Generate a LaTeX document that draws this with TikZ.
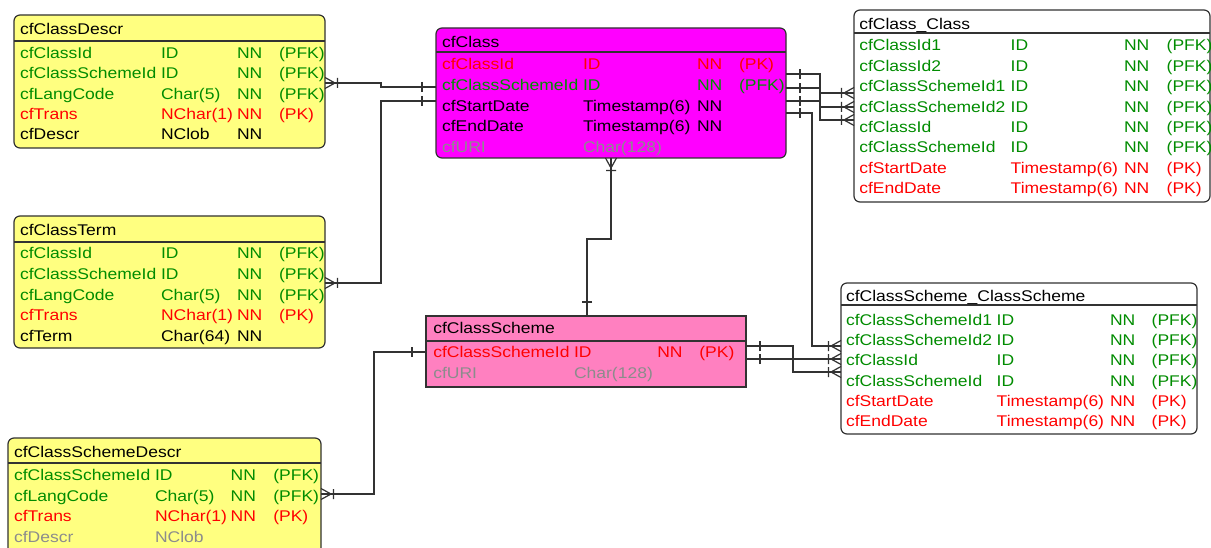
\documentclass[tikz,border=0pt]{standalone}
\usepackage{fontspec}
\setmainfont{Liberation Sans}[FakeStretch=1.13]
\definecolor{tyellow}{RGB}{255,255,128}
\definecolor{tmagenta}{RGB}{255,0,255}
\definecolor{tpink}{RGB}{255,128,192}
\definecolor{tgreen}{RGB}{0,140,0}
\definecolor{tred}{RGB}{255,0,0}
\definecolor{tgray}{RGB}{140,140,140}
\definecolor{tline}{RGB}{50,50,50}

\pgfdeclarearrow{
  name=Crow,
  setup code={
    \pgfarrowssettipend{0pt}
    \pgfarrowssetlineend{0pt}
    \pgfarrowssetbackend{-13pt}
    \pgfarrowssetvisualbackend{-13pt}
    \pgfarrowshullpoint{0pt}{5pt}
    \pgfarrowshullpoint{0pt}{-5pt}
    \pgfarrowshullpoint{-13pt}{5pt}
    \pgfarrowshullpoint{-13pt}{-5pt}
  },
  drawing code={
    \pgfsetdash{}{0pt}
    \pgfpathmoveto{\pgfpoint{0pt}{5.5pt}}
    \pgfpathlineto{\pgfpoint{-10pt}{0pt}}
    \pgfpathlineto{\pgfpoint{0pt}{-5.5pt}}
    \pgfpathmoveto{\pgfpoint{-12.5pt}{5pt}}
    \pgfpathlineto{\pgfpoint{-12.5pt}{-5pt}}
    \pgfusepathqstroke
  }
}
\pgfdeclarearrow{
  name=OneTick,
  setup code={
    \pgfarrowssettipend{0pt}
    \pgfarrowssetlineend{0pt}
    \pgfarrowssetbackend{-14pt}
    \pgfarrowssetvisualbackend{-14pt}
    \pgfarrowshullpoint{0pt}{0pt}
    \pgfarrowshullpoint{-14pt}{5pt}
    \pgfarrowshullpoint{-14pt}{-5pt}
  },
  drawing code={
    \pgfsetdash{}{0pt}
    \pgfpathmoveto{\pgfpoint{-14pt}{5pt}}
    \pgfpathlineto{\pgfpoint{-14pt}{-5pt}}
    \pgfusepathqstroke
  }
}

\newcommand{\erow}[7]{%
  \node[cell,text=#3] (#1a) at (\cA,#2) {#4};%
  \if\relax\detokenize{#5}\relax\else\node[cell,text=#3] (#1b) at (\cB,#2) {#5};\fi
  \if\relax\detokenize{#6}\relax\else\node[cell,text=#3] (#1c) at (\cC,#2) {#6};\fi
  \if\relax\detokenize{#7}\relax\else\node[cell,text=#3] (#1d) at (\cD,#2) {#7};\fi
}

\begin{document}
\begin{tikzpicture}[x=1pt,y=-1pt,
  tbl/.style={draw=tline, line width=1.2pt, rounded corners=6pt, anchor=north west, inner sep=0pt, outer sep=0pt},
  sqtbl/.style={tbl, rounded corners=0pt},
  hsep/.style={draw=tline, line width=1.3pt},
  cell/.style={anchor=base west, inner sep=0pt, outer sep=0pt, font=\fontsize{15.5}{18}\selectfont},
  rel/.style={draw=tline, line width=1.2pt}
]
\useasboundingbox (0,0) rectangle (1211,548);
\clip (0,0) rectangle (1211,548);
\fill[white] (0,0) rectangle (1211,548);

% ---------- cfClassDescr ----------
\node[tbl, fill=tyellow, minimum width=311pt, minimum height=133pt] (descr) at (14,15) {};
\draw[hsep] (descr.west |- 0,41) -- (descr.east |- 0,41);
\node[cell] (descrh) at (20,35) {cfClassDescr};
\def\cA{20}\def\cB{161}\def\cC{237}\def\cD{279}
\erow{dA}{58.3}{tgreen}{cfClassId}{ID}{NN}{(PFK)}
\erow{dB}{78.7}{tgreen}{cfClassSchemeId}{ID}{NN}{(PFK)}
\erow{dC}{99.1}{tgreen}{cfLangCode}{Char(5)}{NN}{(PFK)}
\erow{dD}{119.5}{tred}{cfTrans}{NChar(1)}{NN}{(PK)}
\erow{dE}{139.9}{black}{cfDescr}{NClob}{NN}{}

% ---------- cfClassTerm ----------
\node[tbl, fill=tyellow, minimum width=311pt, minimum height=132pt] (term) at (14,216) {};
\draw[hsep] (term.west |- 0,242) -- (term.east |- 0,242);
\node[cell] (termh) at (20,235.7) {cfClassTerm};
\erow{tA}{259}{tgreen}{cfClassId}{ID}{NN}{(PFK)}
\erow{tB}{279.6}{tgreen}{cfClassSchemeId}{ID}{NN}{(PFK)}
\erow{tC}{300.2}{tgreen}{cfLangCode}{Char(5)}{NN}{(PFK)}
\erow{tD}{320.8}{tred}{cfTrans}{NChar(1)}{NN}{(PK)}
\erow{tE}{341.4}{black}{cfTerm}{Char(64)}{NN}{}

% ---------- cfClassSchemeDescr ----------
\node[tbl, fill=tyellow, minimum width=313pt, minimum height=125pt] (sdescr) at (8,438) {};
\draw[hsep] (sdescr.west |- 0,463) -- (sdescr.east |- 0,463);
\node[cell] (sdescrh) at (14,457.7) {cfClassSchemeDescr};
\def\cA{14}\def\cB{155}\def\cC{230.7}\def\cD{273.3}
\erow{sA}{480.7}{tgreen}{cfClassSchemeId}{ID}{NN}{(PFK)}
\erow{sB}{501.2}{tgreen}{cfLangCode}{Char(5)}{NN}{(PFK)}
\erow{sC}{521.7}{tred}{cfTrans}{NChar(1)}{NN}{(PK)}
\erow{sD}{542.2}{tgray}{cfDescr}{NClob}{}{}

% ---------- cfClass ----------
\node[tbl, fill=tmagenta, minimum width=350pt, minimum height=130pt] (class) at (436,28) {};
\draw[hsep] (class.west |- 0,52) -- (class.east |- 0,52);
\node[cell] (classh) at (442,47.3) {cfClass};
\def\cA{442}\def\cB{583}\def\cC{697}\def\cD{739}
\erow{cA}{70}{tred}{cfClassId}{ID}{NN}{(PK)}
\erow{cB}{90.6}{tgreen}{cfClassSchemeId}{ID}{NN}{(PFK)}
\erow{cC}{111.2}{black}{cfStartDate}{Timestamp(6)}{NN}{}
\erow{cD}{131.8}{black}{cfEndDate}{Timestamp(6)}{NN}{}
\erow{cE}{152.4}{tgray}{cfURI}{Char(128)}{}{}

% ---------- cfClassScheme ----------
\node[sqtbl, fill=tpink, minimum width=320pt, minimum height=71pt] (scheme) at (426,316) {};
\draw[hsep] (scheme.west |- 0,341) -- (scheme.east |- 0,341);
\node[cell] (schemeh) at (433.3,334) {cfClassScheme};
\def\cA{433.3}\def\cB{574}\def\cC{657.3}\def\cD{699.3}
\erow{kA}{357.3}{tred}{cfClassSchemeId}{ID}{NN}{(PK)}
\erow{kB}{378.3}{tgray}{cfURI}{Char(128)}{}{}

% ---------- cfClass_Class ----------
\node[tbl, fill=white, minimum width=356pt, minimum height=192pt] (cc) at (854,10) {};
\draw[hsep] (cc.west |- 0,33) -- (cc.east |- 0,33);
\node[cell] (cch) at (859.3,29.3) {cfClass\_Class};
\def\cA{859.3}\def\cB{1010.7}\def\cC{1124}\def\cD{1166.7}
\erow{ccA}{51}{tgreen}{cfClassId1}{ID}{NN}{(PFK)}
\erow{ccB}{71.4}{tgreen}{cfClassId2}{ID}{NN}{(PFK)}
\erow{ccC}{91.8}{tgreen}{cfClassSchemeId1}{ID}{NN}{(PFK)}
\erow{ccD}{112.2}{tgreen}{cfClassSchemeId2}{ID}{NN}{(PFK)}
\erow{ccE}{132.6}{tgreen}{cfClassId}{ID}{NN}{(PFK)}
\erow{ccF}{153}{tgreen}{cfClassSchemeId}{ID}{NN}{(PFK)}
\erow{ccG}{173.4}{tred}{cfStartDate}{Timestamp(6)}{NN}{(PK)}
\erow{ccH}{193.8}{tred}{cfEndDate}{Timestamp(6)}{NN}{(PK)}

% ---------- cfClassScheme_ClassScheme ----------
\node[tbl, fill=white, minimum width=356pt, minimum height=151pt] (ccs) at (841,283) {};
\draw[hsep] (ccs.west |- 0,305) -- (ccs.east |- 0,305);
\node[cell] (ccsh) at (846,301.7) {cfClassScheme\_ClassScheme};
\def\cA{846}\def\cB{996.7}\def\cC{1110}\def\cD{1151.7}
\erow{qA}{325}{tgreen}{cfClassSchemeId1}{ID}{NN}{(PFK)}
\erow{qB}{345.3}{tgreen}{cfClassSchemeId2}{ID}{NN}{(PFK)}
\erow{qC}{365.7}{tgreen}{cfClassId}{ID}{NN}{(PFK)}
\erow{qD}{386}{tgreen}{cfClassSchemeId}{ID}{NN}{(PFK)}
\erow{qE}{406.3}{tred}{cfStartDate}{Timestamp(6)}{NN}{(PK)}
\erow{qF}{426.7}{tred}{cfEndDate}{Timestamp(6)}{NN}{(PK)}

% ---------- relationships ----------
\draw[rel, arrows={OneTick-Crow}] (class.west |- 0,87) -- (381,87) -- (381,83) -- (descr.east |- 0,83);
\draw[rel, arrows={OneTick-Crow}] (class.west |- 0,101) -- (381,101) -- (381,283) -- (term.east |- 0,283);
\draw[rel, arrows={OneTick-Crow}] (scheme.west |- 0,352) -- (374,352) -- (374,494) -- (sdescr.east |- 0,494);
\draw[rel, arrows={OneTick-Crow}] (scheme.north -| 587,0) -- (587,239) -- (611,239) -- (class.south -| 611,0);

\draw[rel, arrows={OneTick-Crow}] (class.east |- 0,74) -- (820,74) -- (820,93) -- (cc.west |- 0,93);
\draw[rel, arrows={OneTick-Crow}] (class.east |- 0,88) -- (820,88) -- (820,107) -- (cc.west |- 0,107);
\draw[rel, arrows={OneTick-Crow}] (class.east |- 0,101) -- (820,101) -- (820,120) -- (cc.west |- 0,120);
\draw[rel, arrows={OneTick-Crow}] (class.east |- 0,113) -- (812,113) -- (812,346) -- (ccs.west |- 0,346);

\draw[rel, arrows={OneTick-Crow}] (scheme.east |- 0,346) -- (793,346) -- (793,372) -- (ccs.west |- 0,372);
\draw[rel, arrows={OneTick-Crow}] (scheme.east |- 0,359) -- (ccs.west |- 0,359);
\end{tikzpicture}
\end{document}
